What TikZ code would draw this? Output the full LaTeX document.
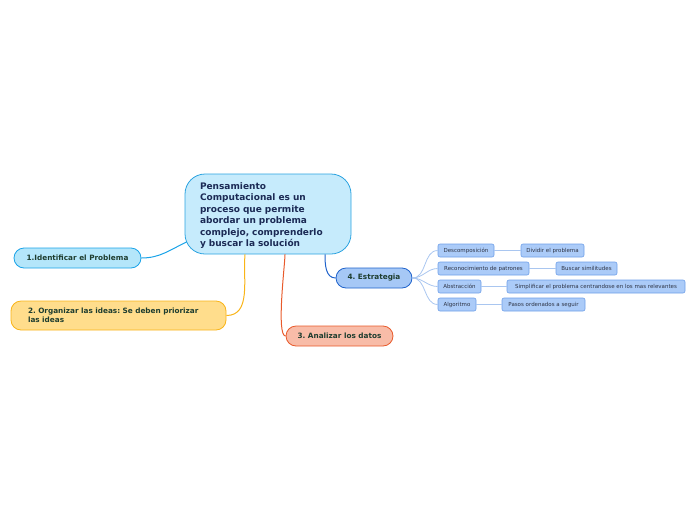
\documentclass[tikz,border=0pt]{standalone}
\usepackage{fontspec}
\setmainfont{DejaVu Sans}
\usetikzlibrary{calc}
\definecolor{cenfill}{HTML}{C6EBFC}
\definecolor{cenline}{HTML}{2BA3E0}
\definecolor{centext}{HTML}{1B2A55}
\definecolor{onefill}{HTML}{B4E6FA}
\definecolor{oneline}{HTML}{1AA3E8}
\definecolor{twofill}{HTML}{FFDD8C}
\definecolor{twoline}{HTML}{F9B418}
\definecolor{threefill}{HTML}{F8BCA8}
\definecolor{threeline}{HTML}{E85A2B}
\definecolor{fourfill}{HTML}{A6C8F6}
\definecolor{fourline}{HTML}{1F62CB}
\definecolor{subfill}{HTML}{ABCBF8}
\definecolor{subline}{HTML}{6E9FE8}
\definecolor{sublink}{HTML}{A9C6F0}
\definecolor{leaftext}{HTML}{1E3D2F}
\definecolor{subtext}{HTML}{2E3445}
\frenchspacing
\begin{document}
\begin{tikzpicture}[x=1pt,y=1pt,
  every node/.style={inner sep=0pt},
  topic/.style={draw=cenline,fill=cenfill,line width=0.8pt,rounded corners=20pt,
    minimum width=166pt,minimum height=80pt},
  topictext/.style={text width=136pt,align=left,
    text=centext,font=\fontsize{9}{11.4}\selectfont\bfseries},
  branch/.style={line width=0.8pt,rounded corners=10pt,minimum height=20pt,
    text=leaftext,font=\fontsize{7.3}{9}\selectfont\bfseries},
  subnode/.style={draw=subline,fill=subfill,line width=0.6pt,rounded corners=2pt,
    minimum height=13pt,text=subtext,font=\fontsize{5.5}{6.5}\selectfont},
  link/.style={line width=1pt},
  sublinkline/.style={draw=sublink,line width=0.8pt}]
\useasboundingbox (0,0) rectangle (696,-520);
\node [topic] (cen) at (268,-214) {};
\node [topictext] (centxt) at ($(cen.center)+(0,-1.5)$) {Pensamiento\\Computacional es un\\proceso que permite\\abordar un problema\\complejo, comprenderlo\\y buscar la soluci\'on};
\node [branch,draw=oneline,fill=onefill,minimum width=127pt] (ident) at (77.5,-258) {1.Identificar el Problema};
\node [branch,draw=twoline,fill=twofill,minimum width=215pt,minimum height=29pt,
  text width=181pt,align=left] (organ) at (118.5,-315.5) {2. Organizar las ideas: Se deben priorizar\\las ideas};
\node [branch,draw=threeline,fill=threefill,minimum width=107pt] (anal) at (339.5,-336) {3. Analizar los datos};
\node [branch,draw=fourline,fill=fourfill,minimum width=76pt] (estr) at (374,-278) {4. Estrategia};
\node [subnode,minimum width=56pt] (desc) at (466,-250.5) {Descomposici\'on};
\node [subnode,minimum width=91pt] (recon) at (483.5,-268.5) {Reconocimiento de patrones};
\node [subnode,minimum width=43pt] (abst) at (459.5,-286.5) {Abstracci\'on};
\node [subnode,minimum width=38pt] (algo) at (457,-304.5) {Algoritmo};
\node [subnode,minimum width=63pt] (divid) at (552.5,-250.5) {Dividir el problema};
\node [subnode,minimum width=61pt] (busc) at (586.5,-268.5) {Buscar similitudes};
\node [subnode,minimum width=178pt] (simpl) at (596,-286.5) {Simplificar el problema centrandose en los mas relevantes};
\node [subnode,minimum width=83pt] (pasos) at (543.5,-304.5) {Pasos ordenados a seguir};
\draw [link,oneline] (ident.east) to[out=0,in=205] ($(cen.west)+(2,-28)$);
\draw [link,twoline] ($(cen.south)+(-23,0)$) to[out=-95,in=0] (organ.east);
\draw [link,threeline] ($(cen.south)+(17,0)$) to[out=-90,in=180,looseness=0.3] (anal.west);
\draw [link,fourline] ($(cen.south)+(57,0)$) to[out=-90,in=180] (estr.west);
\foreach \s in {desc,recon,abst,algo}
  \draw [sublinkline] (estr.east) to[out=0,in=180] (\s.west);
\draw [sublinkline] (desc) -- (divid);
\draw [sublinkline] (recon) -- (busc);
\draw [sublinkline] (abst) -- (simpl);
\draw [sublinkline] (algo) -- (pasos);
\end{tikzpicture}
\end{document}
